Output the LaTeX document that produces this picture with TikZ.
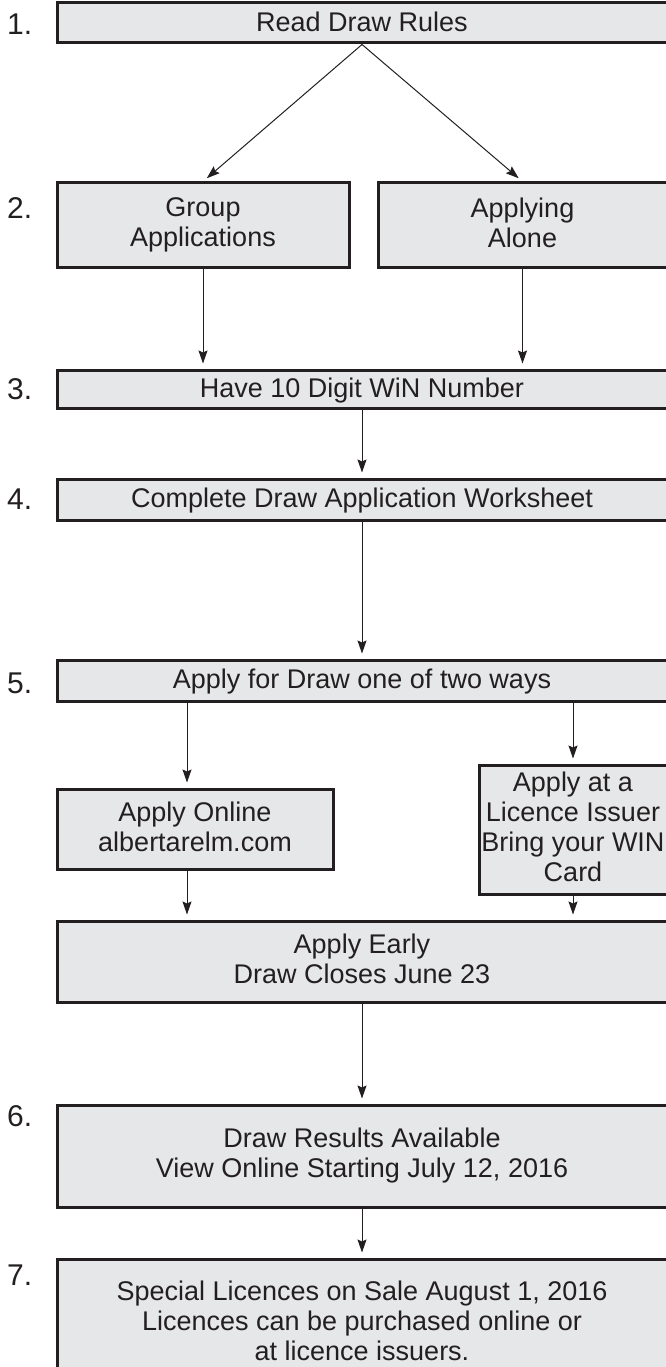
\documentclass[tikz,border=0pt]{standalone}
\usepackage{fontspec}
\setmainfont{Liberation Sans}
\usetikzlibrary{arrows.meta,positioning}
\definecolor{boxfill}{HTML}{E6E7E8}
\definecolor{ink}{HTML}{231F20}
\begin{document}
\begin{tikzpicture}[x=1pt, y=-1pt,
  stage/.style = {draw=ink, line width=3pt, fill=boxfill, text=ink,
    align=center, inner sep=0pt, font=\fontsize{27}{30}\selectfont,
    execute at begin node=\rule{0pt}{22pt},
    execute at end node=\rule[-5pt]{0pt}{5pt}},
  steplabel/.style = {text=ink, anchor=west, inner sep=0pt,
    font=\fontsize{30}{32}\selectfont},
  flow/.style = {draw=ink, line width=1pt,
    -{Stealth[length=13pt,width=9pt,inset=2pt]}, shorten >=5pt}]
  \clip (0,0) rectangle (666,1367);
  \fill[white] (0,0) rectangle (666,1367);
  % boxes
  \node[stage, minimum width=610pt, minimum height=40pt] (read) at (362,23) {Read Draw Rules};
  \node[stage, minimum width=292pt, minimum height=84pt] (group) at (203,225) {Group\\Applications};
  \node[stage, minimum width=289pt, minimum height=84pt] (alone) at (522.5,225) {Applying\\Alone};
  \node[stage, minimum width=610pt, minimum height=38pt] (win) at (362,389) {Have 10 Digit WiN Number};
  \node[stage, minimum width=610pt, minimum height=41pt] (sheet) at (362,499.5) {Complete Draw Application Worksheet};
  \node[stage, minimum width=610pt, minimum height=41pt] (apply) at (362,680.5) {Apply for Draw one of two ways};
  \node[stage, minimum width=276pt, minimum height=80pt] (online) at (195,829) {Apply Online\\albertarelm.com};
  \node[stage, minimum width=188pt, minimum height=129pt] (issuer) at (573,829.5) {Apply at a\\Licence Issuer\\Bring your WIN\\Card};
  \node[stage, minimum width=610pt, minimum height=81pt] (early) at (362,961.5) {Apply Early\\Draw Closes June 23};
  \node[stage, minimum width=610pt, minimum height=102pt] (results) at (362,1156) {Draw Results Available\\View Online Starting July 12, 2016};
  \node[stage, minimum width=610pt, minimum height=128pt] (special) at (362,1323) {Special Licences on Sale August 1, 2016\\Licences can be purchased online or\\at licence issuers.};
  % step numbers
  \node[steplabel] (l1) at (7,24) {1.};
  \node[steplabel] (l2) at (7,208) {2.};
  \node[steplabel] (l3) at (7,389) {3.};
  \node[steplabel] (l4) at (7,499) {4.};
  \node[steplabel] (l5) at (7,683) {5.};
  \node[steplabel] (l6) at (7,1116) {6.};
  \node[steplabel] (l7) at (7,1275) {7.};
  % connectors
  \draw[flow] (read.south) -- (group.north);
  \draw[flow] (read.south) -- (alone.north);
  \draw[flow] (group.south) -- (group.south |- win.north);
  \draw[flow] (alone.south) -- (alone.south |- win.north);
  \draw[flow] (win.south) -- (sheet.north);
  \draw[flow] (sheet.south) -- (apply.north);
  \draw[flow] ([xshift=-8pt]online.north |- apply.south) -- ([xshift=-8pt]online.north);
  \draw[flow] (issuer.north |- apply.south) -- (issuer.north);
  \draw[flow] ([xshift=-8pt]online.south) -- ([xshift=-8pt]online.south |- early.north);
  \draw[flow] (issuer.south) -- (issuer.south |- early.north);
  \draw[flow] (early.south) -- (results.north);
  \draw[flow] (results.south) -- (special.north);
\end{tikzpicture}
\end{document}
